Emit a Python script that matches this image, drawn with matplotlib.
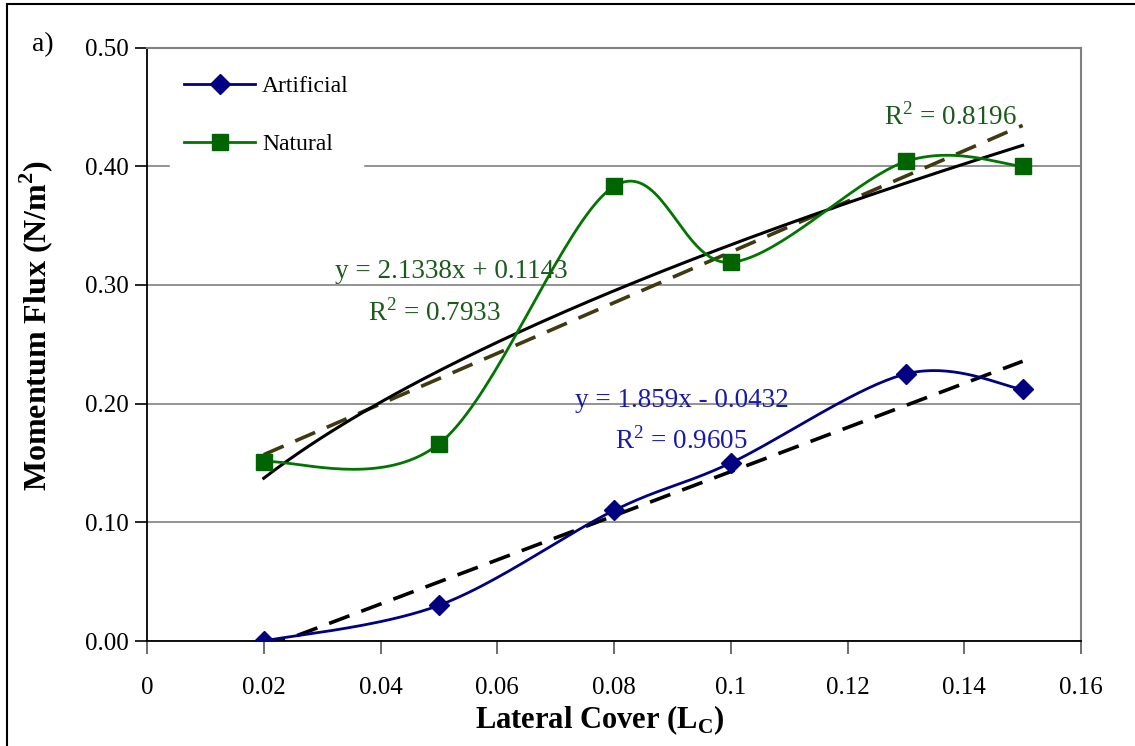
import numpy as np
import matplotlib
matplotlib.use("Agg")
import matplotlib.pyplot as plt
from matplotlib.patches import Rectangle

# ---- data ----
lateral_cover = [0.02, 0.05, 0.08, 0.10, 0.13, 0.15]
artificial = [0.000, 0.030, 0.110, 0.150, 0.225, 0.212]
natural = [0.151, 0.166, 0.383, 0.319, 0.404, 0.400]

# trend line parameters (as printed on chart)
art_slope, art_icpt = 1.859, -0.0432
nat_slope, nat_icpt = 2.1338, 0.1143

x_ticks = [0, 0.02, 0.04, 0.06, 0.08, 0.1, 0.12, 0.14, 0.16]
x_tick_labels = ["0", "0.02", "0.04", "0.06", "0.08", "0.1", "0.12", "0.14", "0.16"]
y_ticks = [0.0, 0.1, 0.2, 0.3, 0.4, 0.5]
y_tick_labels = ["0.00", "0.10", "0.20", "0.30", "0.40", "0.50"]

plt.rcParams['font.family'] = ['Liberation Serif', 'DejaVu Serif']
plt.rcParams['mathtext.fontset'] = 'custom'
plt.rcParams['mathtext.rm'] = 'Liberation Serif'
plt.rcParams['mathtext.bf'] = 'Liberation Serif:bold'


def excel_smooth(xs, ys, n=40):
    xs = np.asarray(xs, float); ys = np.asarray(ys, float)
    sx, sy = 0.16, 0.5
    P = np.column_stack([xs / sx, ys / sy])
    out = []
    m = len(P)
    for i in range(m - 1):
        p0 = P[i - 1] if i > 0 else P[i]
        p1 = P[i]
        p2 = P[i + 1]
        p3 = P[i + 2] if i + 2 < m else P[i + 1]
        c1 = p1 + (p2 - p0) / 6.0
        c2 = p2 - (p3 - p1) / 6.0
        t = np.linspace(0, 1, n)[:, None]
        seg = ((1 - t) ** 3) * p1 + 3 * ((1 - t) ** 2) * t * c1 + 3 * (1 - t) * t ** 2 * c2 + t ** 3 * p2
        if i > 0:
            seg = seg[1:]
        out.append(seg)
    out = np.vstack(out)
    return out[:, 0] * sx, out[:, 1] * sy


# power fit for natural
lx = np.log(lateral_cover); ly = np.log(natural)
b_pow, ln_a = np.polyfit(lx, ly, 1)
a_pow = np.exp(ln_a)

fig = plt.figure(figsize=(11.35, 7.46), dpi=100)
ax = fig.add_axes([147 / 1135, 1 - 641 / 746, (1081 - 147) / 1135, (641 - 47.5) / 746])

navy = '#000080'
green = '#007500'
mgreen = '#006400'
olive = '#3f3a10'

# smoothed data lines
xa, ya = excel_smooth(lateral_cover, artificial)
ax.plot(xa, ya, color=navy, lw=2.0, zorder=4)
ax.plot(lateral_cover, artificial, ls='none', marker='D', ms=10, color=navy, zorder=5)
xn, yn = excel_smooth(lateral_cover, natural)
ax.plot(xn, yn, color=green, lw=2.0, zorder=4)
ax.plot(lateral_cover, natural, ls='none', marker='s', ms=11, color=mgreen, zorder=5)

# trend lines
xt = np.linspace(lateral_cover[0], lateral_cover[-1], 200)
ax.plot(xt, nat_slope * xt + nat_icpt, color=olive, lw=2.6, ls=(0, (6, 3.5)), zorder=3)
ax.plot(xt, a_pow * xt ** b_pow, color='black', lw=2.2, zorder=3)
ax.plot(xt, np.clip(art_slope * xt + art_icpt, 0, None), color='black', lw=2.6,
        ls=(0, (6, 3.5)), zorder=3)

# legend proxies
h1, = ax.plot([], [], color=navy, lw=2.0, marker='D', ms=10)
h2, = ax.plot([], [], color=green, lw=2.0, marker='s', ms=11, mfc=mgreen, mec=mgreen)
leg = ax.legend([h1, h2], ['Artificial', 'Natural'], loc='upper left',
                bbox_to_anchor=(0.012, 0.997), frameon=True, fancybox=False,
                edgecolor='white', facecolor='white', framealpha=1,
                fontsize=17, handlelength=3.0, labelspacing=1.56, handletextpad=0.3,
                borderpad=0.6)
leg.set_zorder(6)

# annotations
tc_nat = '#1a5a1a'
tc_art = '#1a1aa8'
fs_ann = 19.5
ax.text(0.0521, 0.311, 'y = 2.1338x + 0.1143', color=tc_nat, fontsize=fs_ann, ha='center', va='center', zorder=7)
ax.text(0.0493, 0.277, 'R$^{\\mathregular{2}}$ = 0.7933', color=tc_nat, fontsize=fs_ann, ha='center', va='center', zorder=7)
ax.text(0.0917, 0.203, 'y = 1.859x - 0.0432', color=tc_art, fontsize=fs_ann, ha='center', va='center', zorder=7)
ax.text(0.0915, 0.169, 'R$^{\\mathregular{2}}$ = 0.9605', color=tc_art, fontsize=fs_ann, ha='center', va='center', zorder=7)
ax.text(0.1377, 0.4415, 'R$^{\\mathregular{2}}$ = 0.8196', color=tc_nat, fontsize=fs_ann, ha='center', va='center', zorder=7)

ax.set_xlim(0, 0.16)
ax.set_ylim(0, 0.5)
ax.set_xticks(x_ticks)
ax.set_xticklabels(x_tick_labels, fontsize=18)
ax.set_yticks(y_ticks)
ax.set_yticklabels(y_tick_labels, fontsize=18)
ax.tick_params(axis='both', direction='out', length=9, width=1.2, color='black')
ax.tick_params(axis='x', pad=17, colors='#555555', labelcolor='black')
ax.tick_params(axis='y', pad=4)
ax.yaxis.grid(True, color='#808080', lw=1.2)
ax.set_axisbelow(True)
for s in ['top', 'right']:
    ax.spines[s].set_color('#808080')
    ax.spines[s].set_linewidth(1.5)
for s in ['left', 'bottom']:
    ax.spines[s].set_color('black')
    ax.spines[s].set_linewidth(1.3)

ax.set_xlabel('Lateral Cover (L$_{\\mathregular{C}}$)', fontsize=22, fontweight='bold')
ax.set_ylabel('Momentum Flux (N/m$^{\\mathbf{2}}$)', fontsize=23, fontweight='bold')
ax.xaxis.set_label_coords(0.485, -0.106)
ax.yaxis.set_label_coords(-0.0985, 0.532)

fig.text(43 / 1135, 1 - 45 / 746, 'a)', fontsize=20, ha='center', va='center')

# outer frame
fig.patches.append(Rectangle((7 / 1135, -0.05), 1.2, 1 - 4 / 746 + 0.05, transform=fig.transFigure,
                             fill=False, edgecolor='black', lw=1.5))

fig.savefig('out.png', dpi=100)
